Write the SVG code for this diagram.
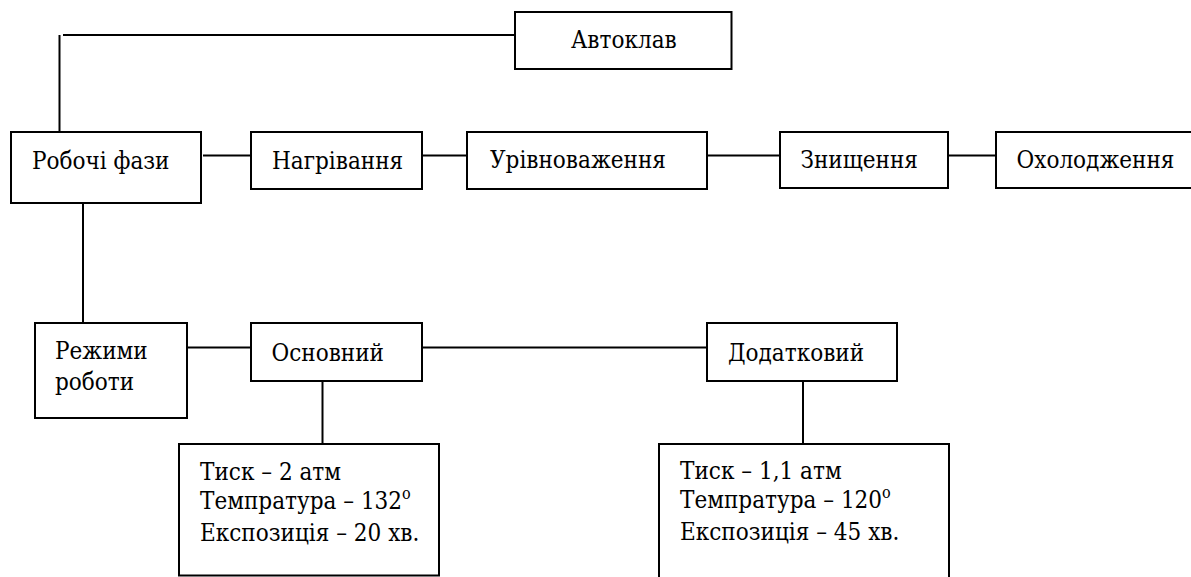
<svg xmlns="http://www.w3.org/2000/svg" width="1191" height="577" viewBox="0 0 1191 577">
<style>
rect{fill:#fff;stroke:#000;stroke-width:2}
.c line{stroke:#000;stroke-width:2}
.sup{font-size:16px}
text{font-family:'DejaVu Serif Condensed','DejaVu Serif',serif;font-stretch:condensed;font-size:24px;fill:#000}
</style>
<rect x="0" y="0" width="1191" height="577" style="stroke:none"/>
<g class="c" id="connectors">
<line x1="63" y1="35" x2="515" y2="35"/>
<line x1="59.5" y1="35" x2="59.5" y2="132"/>
<line x1="203" y1="155.5" x2="251" y2="155.5"/>
<line x1="419" y1="155.5" x2="467" y2="155.5"/>
<line x1="707" y1="155.5" x2="780" y2="155.5"/>
<line x1="948" y1="155.5" x2="996" y2="155.5"/>
<line x1="83" y1="203" x2="83" y2="323"/>
<line x1="179" y1="347.5" x2="251" y2="347.5"/>
<line x1="419" y1="347.5" x2="707" y2="347.5"/>
<line x1="322.5" y1="372" x2="322.5" y2="444"/>
<line x1="803" y1="372" x2="803" y2="444"/>
</g>
<g id="avtoklav"><rect x="515" y="12" width="216.5" height="57"/><text x="571" y="48">Автоклав</text></g>
<g id="robochi"><rect x="11" y="132" width="190" height="71"/><text x="32" y="169">Робочі фази</text></g>
<g id="nagrivannya"><rect x="251" y="132" width="171" height="57"/><text x="272" y="169">Нагрівання</text></g>
<g id="urivnovazhennya"><rect x="467" y="132" width="240" height="57"/><text x="490" y="168">Урівноваження</text></g>
<g id="znyshchennya"><rect x="780" y="132" width="168" height="56"/><text x="800.5" y="168">Знищення</text></g>
<g id="okholodzhennya"><rect x="996" y="132" width="200" height="56"/><text x="1016.5" y="168">Охолодження</text></g>
<g id="rezhymy"><rect x="35" y="323" width="152" height="95"/><text x="55" y="359">Режими</text><text x="55" y="390">роботи</text></g>
<g id="osnovnyi"><rect x="251" y="323" width="171" height="58"/><text x="271.5" y="360.5">Основний</text></g>
<g id="dodatkovyi"><rect x="707" y="323" width="190" height="58"/><text x="728" y="360.5">Додатковий</text></g>
<g id="osn-params"><rect x="179" y="444" width="260" height="131.5"/>
<text x="200" y="480">Тиск – 2 атм</text>
<text x="200" y="508.5">Темпратура – 132<tspan class="sup" dy="-10">o</tspan></text>
<text x="200" y="540.5">Експозиція – 20 хв.</text></g>
<g id="dod-params"><rect x="659" y="444" width="290" height="140"/>
<text x="680" y="478.5">Тиск – 1,1 атм</text>
<text x="680" y="508">Темпратура – 120<tspan class="sup" dy="-10">o</tspan></text>
<text x="680" y="540">Експозиція – 45 хв.</text></g>
</svg>
